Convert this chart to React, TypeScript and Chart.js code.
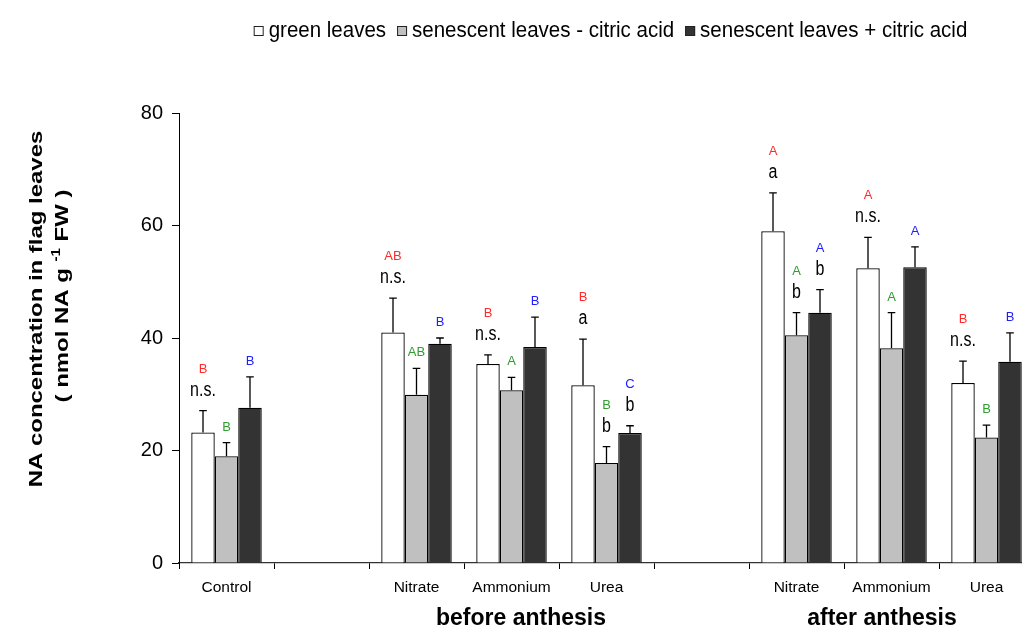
import React, { useEffect, useRef } from 'react';
import { Chart, registerables } from 'chart.js';

Chart.register(...registerables);

const FONT = '"Liberation Sans", Arial, Helvetica, sans-serif';

// ---------- data ----------
const categories = ['Control', '', 'Nitrate', 'Ammonium', 'Urea', '', 'Nitrate', 'Ammonium', 'Urea'];
const seriesNames = ['green leaves', 'senescent leaves - citric acid', 'senescent leaves + citric acid'];

const greenLeaves = [23.2, null, 41.0, 35.4, 31.6, null, 59.0, 52.4, 32.0];
const greenLeavesErr = [3.9, null, 6.1, 1.6, 8.2, null, 6.8, 5.5, 3.9];
const senescentMinus = [19.0, null, 29.9, 30.7, 17.8, null, 40.5, 38.2, 22.3];
const senescentMinusErr = [2.4, null, 4.7, 2.3, 2.9, null, 4.0, 6.3, 2.2];
const senescentPlus = [27.6, null, 39.0, 38.4, 23.1, null, 44.5, 52.6, 35.8];
const senescentPlusErr = [5.5, null, 1.0, 5.3, 1.3, null, 4.1, 3.6, 5.1];

// significance letters
const greenLower = ['n.s.', '', 'n.s.', 'n.s.', 'a', '', 'a', 'n.s.', 'n.s.'];
const senescentMinusLower = ['', '', '', '', 'b', '', 'b', '', ''];
const senescentPlusLower = ['', '', '', '', 'b', '', 'b', '', ''];
const greenUpper = ['B', '', 'AB', 'B', 'B', '', 'A', 'A', 'B'];
const senescentMinusUpper = ['B', '', 'AB', 'A', 'B', '', 'A', 'A', 'B'];
const senescentPlusUpper = ['B', '', 'B', 'B', 'C', '', 'A', 'A', 'B'];

const yTicks = [0, 20, 40, 60, 80];
const periodLabels = ['before anthesis', 'after anthesis'];
const periodAnchor = [3.1, 6.9];
const yTitleLine1 = 'NA concentration in flag leaves';
const yTitleLine2a = '( nmol NA g ';
const yTitleSup = '-1';
const yTitleLine2b = ' FW )';

// ---------- styles ----------
const fills = ['#ffffff', '#c0c0c0', '#333333'];
const letterColors = ['#ff2a2a', '#2e9e2e', '#2020ff'];

const errs = [greenLeavesErr, senescentMinusErr, senescentPlusErr];
const lowers = [greenLower, senescentMinusLower, senescentPlusLower];
const uppers = [greenUpper, senescentMinusUpper, senescentPlusUpper];

function stretchedText(ctx: any, text: string, x: number, y: number, sy: number) {
  ctx.save();
  ctx.translate(x, y);
  ctx.scale(1, sy);
  ctx.fillText(text, 0, 0);
  ctx.restore();
}

const overlayPlugin = {
  id: 'overlay',
  afterDatasetsDraw(chart: any) {
    const ctx = chart.ctx;
    const y = chart.scales.y;
    ctx.save();
    chart.data.datasets.forEach((ds: any, di: number) => {
      const meta = chart.getDatasetMeta(di);
      meta.data.forEach((bar: any, i: number) => {
        const v = ds.data[i];
        if (v == null) return;
        const e = errs[di][i] || 0;
        const top = y.getPixelForValue(v + e);
        // error bar
        ctx.strokeStyle = '#000';
        ctx.lineWidth = 1.3;
        ctx.beginPath();
        ctx.moveTo(bar.x, bar.y);
        ctx.lineTo(bar.x, top);
        ctx.moveTo(bar.x - 3.8, top);
        ctx.lineTo(bar.x + 3.8, top);
        ctx.stroke();
        // letters
        ctx.textAlign = 'center';
        ctx.textBaseline = 'alphabetic';
        let base = top - 12;
        const low = lowers[di][i];
        if (low) {
          const lb = top - 15;
          ctx.font = '16px ' + FONT;
          ctx.fillStyle = '#000';
          stretchedText(ctx, low, bar.x, lb, 1.25);
          base = lb - 23;
        }
        const up = uppers[di][i];
        if (up) {
          ctx.font = '13px ' + FONT;
          ctx.fillStyle = letterColors[di];
          stretchedText(ctx, up, bar.x, base, 1.05);
        }
      });
    });
    ctx.restore();
  },
  afterDraw(chart: any) {
    const ctx = chart.ctx;
    const area = chart.chartArea;
    const x = chart.scales.x;
    ctx.save();

    // legend
    ctx.font = '20.5px ' + FONT;
    const box = 10;
    const gapText = 5;
    const gapItem = 11;
    const widths = seriesNames.map((s) => ctx.measureText(s).width);
    const total = widths.reduce((a, b) => a + b, 0) + seriesNames.length * (box + gapText) + (seriesNames.length - 1) * gapItem;
    let lx = (area.left + area.right) / 2 + 4 - total / 2;
    const baseline = 37;
    seriesNames.forEach((s, k) => {
      ctx.fillStyle = fills[k];
      ctx.fillRect(lx, baseline - 11, box, box);
      ctx.strokeStyle = '#222';
      ctx.lineWidth = 1;
      ctx.strokeRect(lx + 0.5, baseline - 10.5, box - 1, box - 1);
      lx += box + gapText;
      ctx.fillStyle = '#000';
      ctx.textAlign = 'left';
      ctx.textBaseline = 'alphabetic';
      stretchedText(ctx, s, lx, baseline, 1.08);
      lx += widths[k] + gapItem;
    });

    // period labels
    ctx.font = 'bold 23px ' + FONT;
    ctx.fillStyle = '#000';
    ctx.textAlign = 'center';
    ctx.textBaseline = 'alphabetic';
    periodLabels.forEach((t, k) => {
      const a = periodAnchor[k];
      const i0 = Math.floor(a);
      const p0 = x.getPixelForValue(i0);
      const p1 = x.getPixelForValue(i0 + 1);
      ctx.fillText(t, p0 + (a - i0) * (p1 - p0), 625);
    });

    // y title
    ctx.font = 'bold 19px ' + FONT;
    ctx.save();
    ctx.translate(42, 309);
    ctx.rotate(-Math.PI / 2);
    ctx.scale(1.26, 1);
    ctx.textAlign = 'center';
    ctx.fillText(yTitleLine1, 0, 0);
    ctx.restore();

    ctx.save();
    ctx.translate(68, 296);
    ctx.rotate(-Math.PI / 2);
    ctx.scale(1.26, 1);
    ctx.textAlign = 'left';
    ctx.font = 'bold 19px ' + FONT;
    const wa = ctx.measureText(yTitleLine2a).width;
    const wb = ctx.measureText(yTitleLine2b).width;
    ctx.font = 'bold 12px ' + FONT;
    const ws = ctx.measureText(yTitleSup).width;
    const tot = wa + ws + wb;
    let tx = -tot / 2;
    ctx.font = 'bold 19px ' + FONT;
    ctx.fillText(yTitleLine2a, tx, 0);
    tx += wa;
    ctx.font = 'bold 12px ' + FONT;
    ctx.fillText(yTitleSup, tx, -8);
    tx += ws;
    ctx.font = 'bold 19px ' + FONT;
    ctx.fillText(yTitleLine2b, tx, 0);
    ctx.restore();

    ctx.restore();
  },
};

export default function App() {
  const ref = useRef<HTMLCanvasElement | null>(null);

  useEffect(() => {
    if (!ref.current) return;
    Chart.defaults.font.family = FONT;
    const chart = new Chart(ref.current, {
      type: 'bar',
      data: {
        labels: categories,
        datasets: [
          { label: seriesNames[0], data: greenLeaves, backgroundColor: fills[0], borderColor: '#000', borderWidth: 1.3 },
          { label: seriesNames[1], data: senescentMinus, backgroundColor: fills[1], borderColor: '#000', borderWidth: 1.3 },
          { label: seriesNames[2], data: senescentPlus, backgroundColor: fills[2], borderColor: '#000', borderWidth: 1.3 },
        ] as any,
      },
      options: {
        responsive: false,
        animation: false,
        devicePixelRatio: 1,
        layout: { padding: { top: 113, right: 10, left: 0, bottom: 0 } },
        datasets: { bar: { categoryPercentage: 0.742, barPercentage: 1 } },
        plugins: { legend: { display: false }, tooltip: { enabled: false } },
        scales: {
          x: {
            type: 'category',
            offset: true,
            grid: { offset: true, drawOnChartArea: false, drawTicks: true, tickLength: 6, color: '#000', lineWidth: 1 },
            border: { display: true, color: '#333', width: 1.3 },
            ticks: { color: '#000', font: { size: 15.5, family: FONT }, padding: 9, maxRotation: 0, autoSkip: false },
            afterFit: (s: any) => { s.height = 65; },
          },
          y: {
            min: 0,
            max: 80,
            afterBuildTicks: (s: any) => { s.ticks = yTicks.map((v) => ({ value: v })); },
            ticks: { color: '#000', font: { size: 20, family: FONT }, padding: 9 },
            grid: { drawOnChartArea: false, drawTicks: true, tickLength: 7, color: '#000' },
            border: { display: true, color: '#000', width: 1 },
            afterFit: (s: any) => { s.width = 179; },
          },
        },
      } as any,
      plugins: [overlayPlugin],
    });
    return () => chart.destroy();
  }, []);

  return (
    <div style={{ position: 'absolute', left: 0, top: 0, width: 1022, height: 628, overflow: 'hidden', background: '#fff' }}>
      <canvas ref={ref} width={1044} height={628} style={{ display: 'block', width: 1044, height: 628 }} />
    </div>
  );
}
